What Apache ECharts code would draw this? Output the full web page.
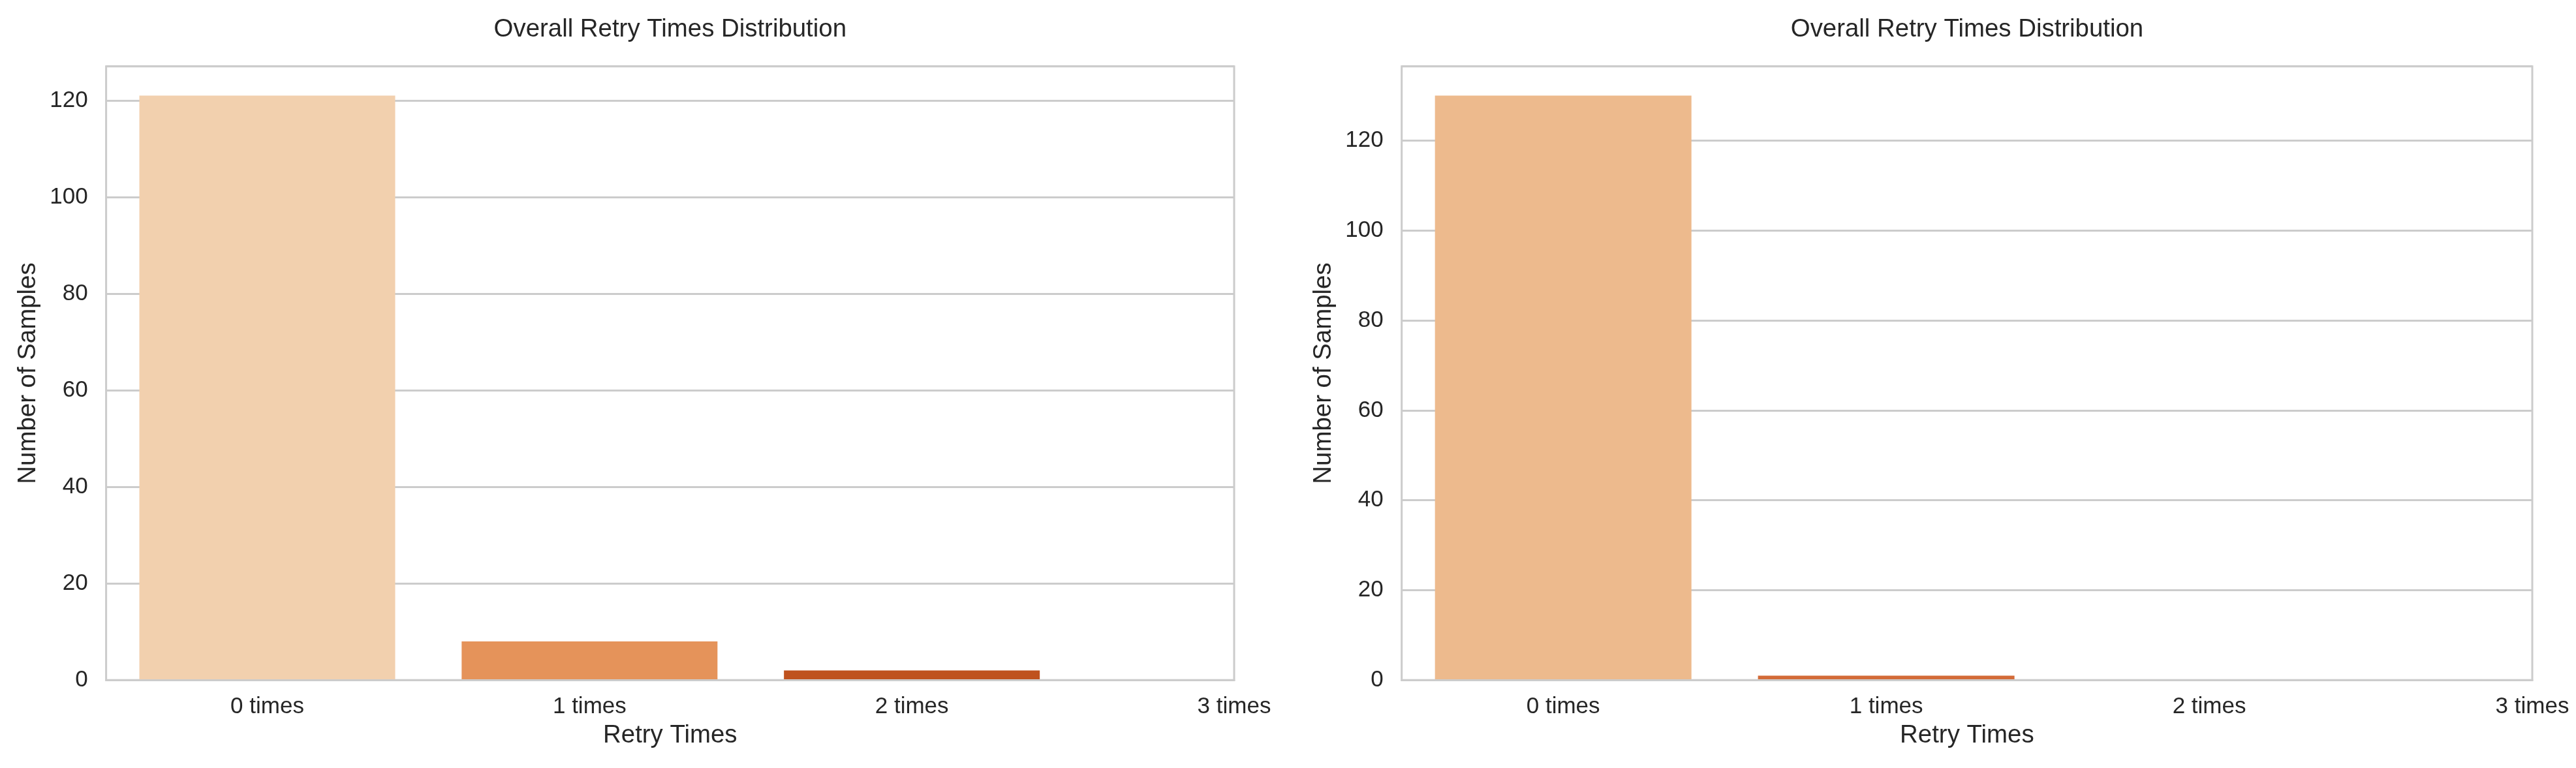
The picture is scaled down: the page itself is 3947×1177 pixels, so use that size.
<!DOCTYPE html>
<html lang="en">
<head>
	<meta charset="UTF-8">
	<title>Overall Retry Times Distribution</title>
	<script src="https://cdn.jsdelivr.net/npm/echarts@6/dist/echarts.min.js"></script>
	<style>
		html, body { margin: 0; padding: 0; background: #fff; }
		#container { width: 3947px; height: 1177px; }
	</style>
</head>
<body>
	<div id="container"></div>
	<script>
		// data
		var categories = ['0 times', '1 times', '2 times', '3 times'];
		var leftCounts = [121, 8, 2, 0];
		var rightCounts = [130, 1, 0, 0];
		var leftColors = ['#f2d0ae', '#e5935a', '#bf521e', '#bf521e'];
		var rightColors = ['#edba8d', '#d36b38', '#d36b38', '#d36b38'];
		var leftMax = 127.05;
		var rightMax = 136.5;

		var textColor = '#262626';
		var lineColor = '#cccccc';
		var font = 'Liberation Sans, Arial, sans-serif';

		var grids = [
			{ left: 162.6, right: 2056, top: 101.7, bottom: 134.7 },
			{ left: 2147.7, right: 67, top: 101.7, bottom: 134.7 }
		];

		function barData(counts, colors) {
			return counts.map(function (v, i) {
				return { value: [i, v], itemStyle: { color: colors[i] } };
			});
		}

		function xAxis(idx) {
			return {
				type: 'value', gridIndex: idx, min: -0.5, max: 3, z: 3,
				name: 'Retry Times', nameLocation: 'middle', nameGap: 66,
				nameTextStyle: { color: textColor, fontSize: 38.4, fontFamily: font },
				axisLine: { show: true, lineStyle: { color: lineColor, width: 3 } },
				axisTick: { show: false },
				splitLine: { show: false },
				axisLabel: {
					customValues: [0, 1, 2, 3], showMaxLabel: true, showMinLabel: true,
					margin: 24, color: textColor, fontSize: 35, fontFamily: font,
					formatter: function (v) { return categories[Math.round(v)]; }
				}
			};
		}

		function yAxis(idx, max) {
			return {
				type: 'value', gridIndex: idx, min: 0, max: max, interval: 20,
				name: 'Number of Samples', nameLocation: 'middle', nameGap: 100,
				nameTextStyle: { color: textColor, fontSize: 38.4, fontFamily: font },
				axisLine: { show: false },
				axisTick: { show: false },
				splitLine: { show: true, lineStyle: { color: lineColor, width: 3 } },
				axisLabel: { margin: 28, color: textColor, fontSize: 35, fontFamily: font, showMaxLabel: false }
			};
		}

		var myChart = echarts.init(document.getElementById('container'), null, { renderer: 'canvas' });
		var option = {
			animation: false,
			backgroundColor: '#fff',
			title: [
				{ text: 'Overall Retry Times Distribution', left: 1026.8, top: 26, textAlign: 'center', padding: 0,
				  textStyle: { color: textColor, fontSize: 38.4, fontWeight: 'normal', fontFamily: font } },
				{ text: 'Overall Retry Times Distribution', left: 3014, top: 26, textAlign: 'center', padding: 0,
				  textStyle: { color: textColor, fontSize: 38.4, fontWeight: 'normal', fontFamily: font } }
			],
			grid: grids.map(function (g) {
				return { left: g.left, right: g.right, top: g.top, bottom: g.bottom,
					show: true, borderColor: lineColor, borderWidth: 3, backgroundColor: '#fff' };
			}),
			xAxis: [xAxis(0), xAxis(1)],
			yAxis: [yAxis(0, leftMax), yAxis(1, rightMax)],
			series: [
				{ type: 'bar', xAxisIndex: 0, yAxisIndex: 0, barWidth: 392, data: barData(leftCounts, leftColors) },
				{ type: 'bar', xAxisIndex: 1, yAxisIndex: 1, barWidth: 393, data: barData(rightCounts, rightColors) }
			]
		};
		myChart.setOption(option);
	</script>
</body>
</html>
